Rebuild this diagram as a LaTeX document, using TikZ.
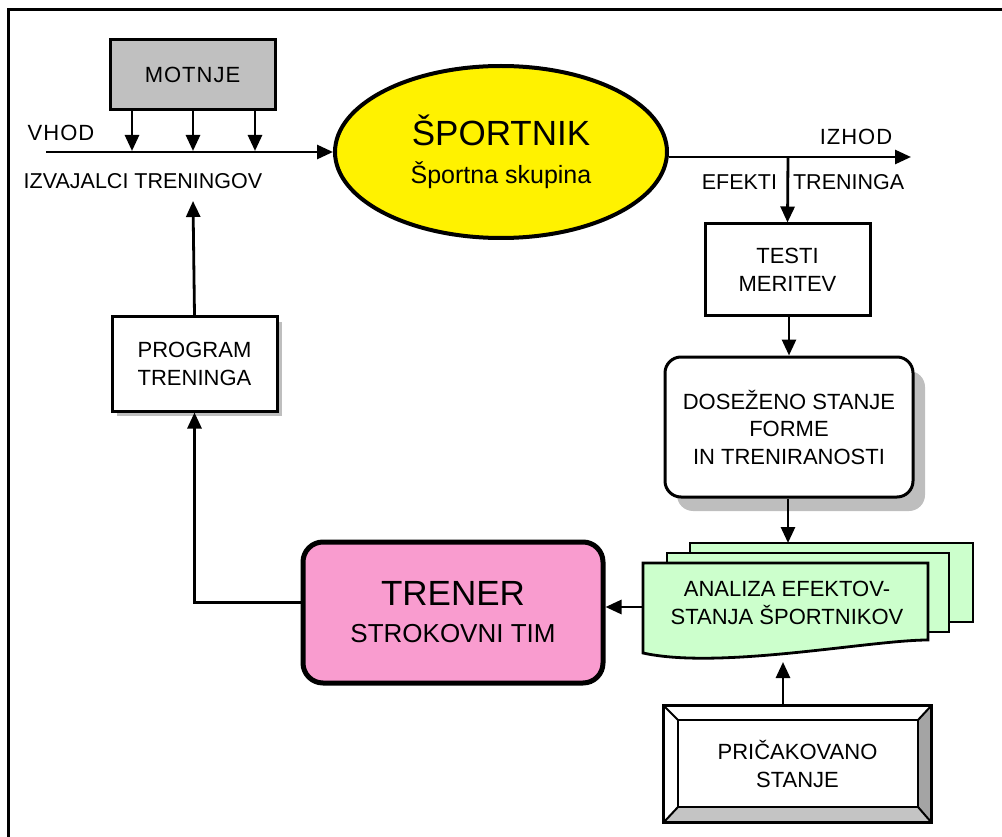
\documentclass[tikz,border=0pt]{standalone}
\usepackage{fontspec}
\setmainfont{Liberation Sans}
\usetikzlibrary{arrows.meta,shapes.geometric,shadows,calc}
\definecolor{pinkfill}{HTML}{F99CCF}
\definecolor{greenfill}{HTML}{CCFFCC}
\definecolor{grayfill}{HTML}{C0C0C0}
\definecolor{shadowgray}{HTML}{BEBEBE}
\definecolor{bevelgray}{HTML}{A4A4A4}
\definecolor{bevellight}{HTML}{C4C4C4}
\begin{document}
\begin{tikzpicture}[x=1pt,y=-1pt,
  arr/.style={line width=2.8pt,-{Triangle[length=16pt,width=14pt]}},
  lab/.style={font=\fontsize{21.5}{27}\selectfont, inner sep=0pt},
  boxtxt/.style={align=center, font=\fontsize{22}{27.5}\selectfont, inner sep=0pt},
  plainbox/.style={draw, line width=3pt, fill=white, boxtxt},
  docpage/.style={draw, line width=2.8pt, fill=greenfill, line join=miter}
]
\useasboundingbox (0,0) rectangle (1002,837);
% frame
\draw[line width=3pt] (8,837) -- (8,10) -- (1002,10);

% top row
\node[plainbox, fill=grayfill, minimum width=165pt, minimum height=70pt] (mo) at (192.5,75) {M\kern1pt O\kern1pt T\kern1pt N\kern1pt J\kern1pt E};
\node[draw, line width=4pt, fill=yellow, ellipse, minimum width=332pt, minimum height=172pt, inner sep=0pt, align=center,
  font=\fontsize{25}{38}\selectfont] (sp) at (501,152)
  {{\fontsize{35}{38}\selectfont ŠPORTNIK}\\Športna skupina};

\coordinate (vin) at (46,152);
\coordinate (m1) at (132,151);
\coordinate (m2) at (193,151);
\coordinate (m3) at (255,151);
\draw[arr] (vin) -- (sp.west);
\draw[arr] (mo.south -| m1) -- (m1);
\draw[arr] (mo.south -| m2) -- (m2);
\draw[arr] (mo.south -| m3) -- (m3);
\node[lab, font=\fontsize{22}{27}\selectfont] (vhod) at (61,133) {V\kern1pt H\kern1pt O\kern1pt D};
\node[lab] (izv) at (143,181) {IZVAJALCI TRENINGOV};

% output
\coordinate (out) at (911,157);
\coordinate (br) at (788,157);
\draw[arr] (sp.east |- out) -- (out);
\node[lab, font=\fontsize{22}{27}\selectfont] (izhod) at (856,137) {I\kern1pt Z\kern1pt H\kern1pt O\kern1pt D};
\node[lab] (ef) at (803,182) {EFEKTI\hspace{16pt}TRENINGA};

% right column
\node[plainbox, minimum width=165pt, minimum height=92pt] (te) at (787.5,270) {TESTI\\MERITEV};
\draw[arr] (br) -- (te.north);
\node[plainbox, rounded corners=16pt, minimum width=248pt, minimum height=140pt,
  drop shadow={shadow xshift=12pt, shadow yshift=-14pt, fill=shadowgray, opacity=1}] (ds) at (789,427)
  {DOSEŽENO STANJE\\FORME\\IN TRENIRANOSTI};
\draw[arr] (te.south -| ds.north) -- (ds.north);

% document stack
\draw[docpage] (690,543) rectangle (973,622);
\draw[docpage] (667,553) rectangle (949,632);
\draw[docpage] (643,563) -- (928,563) -- (928,640) .. controls (870,640) and (720,670) .. (643,653) -- cycle;
\node[boxtxt] (an) at (787,603) {ANALIZA EFEKTOV-\\STANJA ŠPORTNIKOV};
\coordinate (antop) at (788,543);
\coordinate (anw) at (643,607);
\coordinate (anbot) at (783,662);
\draw[arr] (ds.south -| antop) -- (antop);

% trener
\node[draw, line width=5pt, fill=pinkfill, rounded corners=20pt, minimum width=300pt, minimum height=141pt, inner sep=0pt, align=center,
  font=\fontsize{26}{37}\selectfont] (tr) at (453,612.5)
  {{\fontsize{35}{37}\selectfont TRENER}\\STROKOVNI TIM};
\draw[arr] (anw) -- (anw -| tr.east);

% program
\node[plainbox, minimum width=165pt, minimum height=94pt,
  drop shadow={shadow xshift=5pt, shadow yshift=-5pt, fill=shadowgray, opacity=1}] (pg) at (194.5,364) {PROGRAM\\TRENINGA};
\coordinate (pgup) at (193,201);
\draw[arr] ([yshift=10pt]tr.west) -| (pg.south);
\draw[arr] (pg.north) -- (pgup);

% pricakovano (bevel box)
\node[fill=white, minimum width=267pt, minimum height=116pt, boxtxt] (pr) at (797.5,764) {PRIČAKOVANO\\STANJE};
\coordinate (i1) at (678,720);
\coordinate (i2) at (918,720);
\coordinate (i3) at (918,807);
\coordinate (i4) at (678,807);
\fill[bevelgray] (pr.north east) -- (pr.south east) -- (i3) -- (i2) -- cycle;
\fill[bevellight] (pr.south west) -- (pr.south east) -- (i3) -- (i4) -- cycle;
\draw[line width=2pt] (i1) rectangle (i3);
\draw[line width=2pt] (pr.north west) -- (i1) (pr.north east) -- (i2) (pr.south east) -- (i3) (pr.south west) -- (i4);
\draw[line width=3pt] (pr.north west) rectangle (pr.south east);
\draw[arr] (pr.north -| anbot) -- (anbot);
\end{tikzpicture}
\end{document}
